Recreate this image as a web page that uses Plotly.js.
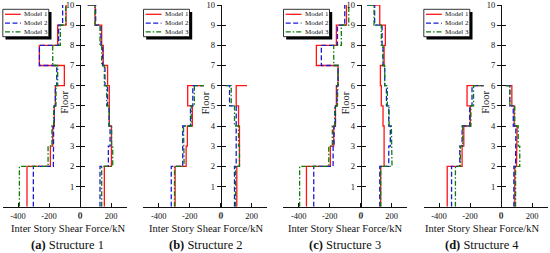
<!DOCTYPE html>
<html><head><meta charset="utf-8">
<script src="https://cdn.plot.ly/plotly-3.0.1.min.js"></script>
<style>html,body{margin:0;padding:0;background:#fff}#chart{width:550px;height:253px}</style>
</head><body><div id="chart"></div>
<script>
// ---------------- data ----------------
const models = ["Model 1", "Model 2", "Model 3"];
const captionTags = ["(a)", "(b)", "(c)", "(d)"];
const captionNames = ["Structure 1", "Structure 2", "Structure 3", "Structure 4"];
const xTickVals = [-400, -200, 0, 200];
const xTickText = ["-400", "-200", "0", "200"];
const floorTickVals = [1, 2, 3, 4, 5, 6, 7, 8, 9, 10];
const floorTickText = ["1", "2", "3", "4", "5", "6", "7", "8", "9", "10"];
const xTitle = "Inter Story Shear Force/kN";
const yTitle = "Floor";

// story shear per story (floor 0-1, 1-2, ...), negative side and positive side
// Structure 1
const s1_m1_neg = [-342, -342, -191, -176, -166, -159, -101, -262, -144, -90];
const s1_m2_neg = [-301, -301, -172, -170, -166, -159, -150, -262, -138, -112];
const s1_m3_neg = [-391, -391, -206, -181, -170, -155, -144, -176, -127, -92];
const s1_m1_pos = [157, 157, 203, 203, 189, 189, 178, 150, 140, 97];
const s1_m2_pos = [129, 129, 183, 194, 187, 178, 161, 146, 135, 101];
const s1_m3_pos = [140, 140, 211, 204, 189, 172, 157, 140, 129, 97];
const s1_negTop = [null, null, null];
const s1_posTop = [50, 50, 50];
// Structure 2
const s2_m1_neg = [-294, -294, -223, -215, -183, -213];
const s2_m2_neg = [-319, -319, -245, -245, -195, -180];
const s2_m3_neg = [-298, -298, -236, -240, -190, -170];
const s2_m1_pos = [104, 104, 121, 121, 115, 100];
const s2_m2_pos = [89, 89, 100, 104, 100, 57];
const s2_m3_pos = [96, 96, 121, 115, 89, 68];
const s2_negTop = [-110, -110, -110];
const s2_posTop = [170, 30, 30];
// Structure 3
const s3_m1_neg = [-350, -350, -196, -174, -163, -157, -146, -286, -157, -92];
const s3_m2_neg = [-303, -303, -178, -172, -163, -153, -146, -254, -150, -103];
const s3_m3_neg = [-394, -394, -206, -183, -168, -150, -146, -174, -125, -77];
const s3_m1_pos = [129, 129, 151, 151, 144, 133, 127, 151, 159, 123];
const s3_m2_pos = [123, 123, 181, 191, 181, 166, 155, 144, 138, 90];
const s3_m3_pos = [129, 129, 202, 198, 183, 172, 155, 144, 133, 86];
const s3_negTop = [null, null, null];
const s3_posTop = [60, 40, 40];
// Structure 4
const s4_m1_neg = [-347, -347, -251, -240, -198, -219];
const s4_m2_neg = [-319, -319, -266, -251, -202, -187];
const s4_m3_neg = [-294, -294, -262, -247, -194, -177];
const s4_m1_pos = [89, 89, 100, 104, 85, 70];
const s4_m2_pos = [83, 83, 94, 96, 79, 57];
const s4_m3_pos = [94, 94, 121, 111, 89, 57];
const s4_negTop = [-113, -113, -113];
const s4_posTop = [30, 30, 30];

const panels = [
  {neg: [s1_m1_neg, s1_m2_neg, s1_m3_neg], pos: [s1_m1_pos, s1_m2_pos, s1_m3_pos], negTop: s1_negTop, posTop: s1_posTop},
  {neg: [s2_m1_neg, s2_m2_neg, s2_m3_neg], pos: [s2_m1_pos, s2_m2_pos, s2_m3_pos], negTop: s2_negTop, posTop: s2_posTop},
  {neg: [s3_m1_neg, s3_m2_neg, s3_m3_neg], pos: [s3_m1_pos, s3_m2_pos, s3_m3_pos], negTop: s3_negTop, posTop: s3_posTop},
  {neg: [s4_m1_neg, s4_m2_neg, s4_m3_neg], pos: [s4_m1_pos, s4_m2_pos, s4_m3_pos], negTop: s4_negTop, posTop: s4_posTop}
];

// ---------------- styling / geometry ----------------
const W = 550, H = 253;
const FONT = "Liberation Serif, Times New Roman, serif";
const INK = "#111";
const styles = [
  {color: "#ff1414", dash: "solid"},
  {color: "#1a1ad6", dash: "5px,2.5px"},
  {color: "#0a7d0a", dash: "5px,2px,1.5px,2px"}
];
const LW = 1.3;
const zeroPx = [80, 220.7, 360.7, 501];
const pxPerUnit = 0.155;
const xMin = -500, xMax = 300;
const yTopPx = 5, yBotPx = 206.7;
const titleCenterPx = [67.5, 205.5, 344.5, 482];
const tickLabelYPx = 214.5;

const px2x = p => p / W;
const px2y = p => 1 - p / H;

function stepXY(vals, top) {
  const x = [], y = [];
  vals.forEach((v, i) => { x.push(v, v); y.push(i, i + 1); });
  if (top !== null) { x.push(top); y.push(vals.length); }
  return {x, y};
}

const data = [];
const layout = {
  width: W, height: H,
  margin: {l: 0, r: 0, t: 0, b: 0},
  paper_bgcolor: "#fff", plot_bgcolor: "rgba(0,0,0,0)",
  showlegend: false,
  font: {family: FONT, color: INK},
  shapes: [], annotations: []
};

panels.forEach((p, k) => {
  const s = k === 0 ? "" : String(k + 1);
  const xa = "x" + s, ya = "y" + s, yo = "y" + (k + 5);
  const d0 = zeroPx[k] + xMin * pxPerUnit, d1 = zeroPx[k] + xMax * pxPerUnit;
  const ydom = [px2y(yBotPx), px2y(yTopPx)];

  layout["xaxis" + s] = {
    domain: [px2x(d0), px2x(d1)], range: [xMin, xMax], anchor: ya,
    showline: true, linecolor: INK, linewidth: 1, showgrid: false, zeroline: false,
    ticks: "inside", ticklen: 4, tickcolor: INK, tickwidth: 1,
    tickvals: xTickVals, ticktext: xTickText, ticklabelstandoff: 1,
    ticklabeloverflow: "allow",
    tickfont: {family: FONT, size: 8.5, color: INK}, fixedrange: true
  };
  layout["yaxis" + s] = {
    domain: ydom, range: [0, 10], anchor: "free", position: px2x(zeroPx[k]),
    showline: true, linecolor: INK, linewidth: 1, showgrid: false, zeroline: false,
    ticks: "outside", ticklen: 4, tickcolor: INK, tickwidth: 1,
    tickvals: floorTickVals, ticktext: floorTickText,
    ticklabeloverflow: "allow",
    tickfont: {family: FONT, size: 8.5, color: INK}, fixedrange: true
  };
  layout["yaxis" + (k + 5)] = {
    overlaying: ya, range: [0, 10], anchor: "free", position: px2x(zeroPx[k]),
    showline: false, showgrid: false, zeroline: false,
    ticks: "inside", ticklen: 4, tickcolor: INK, tickwidth: 1,
    tickvals: floorTickVals, showticklabels: false, fixedrange: true
  };
  data.push({type: "scatter", x: [], y: [], xaxis: xa, yaxis: yo, hoverinfo: "skip", showlegend: false});

  for (let m = 0; m < 3; m++) {
    const st = styles[m];
    const n = stepXY(p.neg[m], p.negTop[m]);
    const q = stepXY(p.pos[m], p.posTop[m]);
    [n, q].forEach(c => data.push({
      type: "scatter", mode: "lines", x: c.x, y: c.y, xaxis: xa, yaxis: ya,
      name: models[m], legendgroup: models[m], showlegend: false,
      line: {color: st.color, width: LW, dash: st.dash, shape: "linear"}, hoverinfo: "skip"
    }));
  }

  // the "0" tick label sits where the floor axis crosses; Plotly drops it, so place it explicitly
  const zi = xTickVals.indexOf(0);
  layout.annotations.push({
    xref: xa, yref: "paper", x: xTickVals[zi], y: px2y(tickLabelYPx), text: xTickText[zi],
    showarrow: false, xanchor: "center", yanchor: "middle",
    font: {family: FONT, size: 8.5, color: INK}
  });

  // Floor title
  layout.annotations.push({
    xref: xa, yref: ya, x: -15 / pxPerUnit, y: 5.15, text: yTitle, textangle: -90,
    showarrow: false, xanchor: "center", yanchor: "middle",
    font: {family: FONT, size: 10.5, color: INK}
  });
  // x title
  layout.annotations.push({
    xref: "paper", yref: "paper", x: px2x(titleCenterPx[k]), y: px2y(228.5), text: xTitle,
    showarrow: false, xanchor: "center", yanchor: "middle",
    font: {family: FONT, size: 10.5, color: INK}
  });
  // caption
  layout.annotations.push({
    xref: "paper", yref: "paper", x: px2x(titleCenterPx[k]), y: px2y(245),
    text: "<b>" + captionTags[k] + "</b> " + captionNames[k],
    showarrow: false, xanchor: "center", yanchor: "middle",
    font: {family: FONT, size: 12.5, color: INK}
  });

  // legend box with shadow
  const L = d0 + 0.3, bw = 46, bt = 9.3, bb = 36.7, sh = 2.7;
  layout.shapes.push({type: "rect", xref: "paper", yref: "paper", layer: "above",
    x0: px2x(L + sh), x1: px2x(L + bw + sh), y0: px2y(bb + sh), y1: px2y(bt + sh),
    fillcolor: "#000", line: {width: 0}});
  layout.shapes.push({type: "rect", xref: "paper", yref: "paper", layer: "above",
    x0: px2x(L), x1: px2x(L + bw), y0: px2y(bb), y1: px2y(bt),
    fillcolor: "#fff", line: {color: "#000", width: 0.8}});
  const rows = [14.3, 23.2, 31.8];
  for (let m = 0; m < 3; m++) {
    layout.shapes.push({type: "line", xref: "paper", yref: "paper", layer: "above",
      x0: px2x(L + 2.2), x1: px2x(L + 18), y0: px2y(rows[m]), y1: px2y(rows[m]),
      line: {color: styles[m].color, width: LW, dash: styles[m].dash}});
    layout.annotations.push({xref: "paper", yref: "paper", x: px2x(L + 19.5), y: px2y(rows[m]),
      text: models[m], showarrow: false, xanchor: "left", yanchor: "middle",
      font: {family: FONT, size: 7, color: INK}});
  }
});

Plotly.newPlot("chart", data, layout, {displayModeBar: false, staticPlot: true});
</script>
</body></html>
